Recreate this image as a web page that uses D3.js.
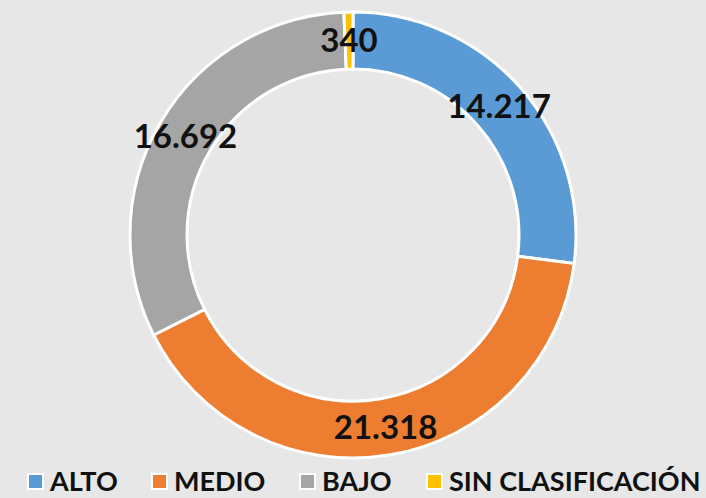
<!DOCTYPE html>
<html>
<head>
<meta charset="utf-8">
<script src="https://cdn.jsdelivr.net/npm/d3@7"></script>
<style>
  body { margin: 0; background: #e7e7e7; }
  svg { display: block; }
  text { font-family: Lato, "Open Sans", sans-serif; font-weight: bold; fill: #111; }
</style>
</head>
<body>
<svg id="chart"></svg>
<script>
// chart data
const categories = ['ALTO', 'MEDIO', 'BAJO', 'SIN CLASIFICACIÓN'];
const values = [14217, 21318, 16692, 340];
const labels = ['14.217', '21.318', '16.692', '340'];
const colors = ['#5b9bd5', '#ed7d31', '#a5a5a5', '#ffc000'];

const w = 706;
const h = 498;
const cx = 353, cy = 235;
const outerR = 223, innerR = 166;

const svg = d3.select('#chart')
    .attr('width', w)
    .attr('height', h);

svg.append('rect')
    .attr('width', w)
    .attr('height', h)
    .attr('fill', '#e7e7e7');

const g = svg.append('g')
    .attr('transform', `translate(${cx}, ${cy})`);

const pie = d3.pie().sort(null).value(d => d)(values);
const arc = d3.arc().innerRadius(innerR).outerRadius(outerR);
const labelArc = d3.arc().innerRadius((innerR + outerR) / 2).outerRadius((innerR + outerR) / 2);

g.selectAll('.slice')
    .data(pie)
    .enter()
    .append('path')
    .attr('class', 'slice')
    .attr('d', arc)
    .attr('fill', (d, i) => colors[i])
    .attr('stroke', '#fff')
    .attr('stroke-width', 3);

g.selectAll('.lbl')
    .data(pie)
    .enter()
    .append('text')
    .attr('class', 'lbl')
    .attr('transform', d => `translate(${labelArc.centroid(d)})`)
    .attr('text-anchor', 'middle')
    .attr('dy', '0.36em')
    .style('font-size', '33px')
    .text((d, i) => labels[i]);

// legend
const legendX = [28, 152, 300, 427];
const legend = svg.append('g')
    .attr('transform', `translate(0, 481)`);

const item = legend.selectAll('.item')
    .data(categories)
    .enter()
    .append('g')
    .attr('class', 'item')
    .attr('transform', (d, i) => `translate(${legendX[i]}, 0)`);

item.append('rect')
    .attr('x', 0)
    .attr('y', -7)
    .attr('width', 15)
    .attr('height', 15)
    .attr('fill', (d, i) => colors[i])
    .attr('stroke', '#fff')
    .attr('stroke-width', 2);

item.append('text')
    .attr('x', 22)
    .attr('dy', '0.36em')
    .style('font-size', '27px')
    .text(d => d);
</script>
</body>
</html>
